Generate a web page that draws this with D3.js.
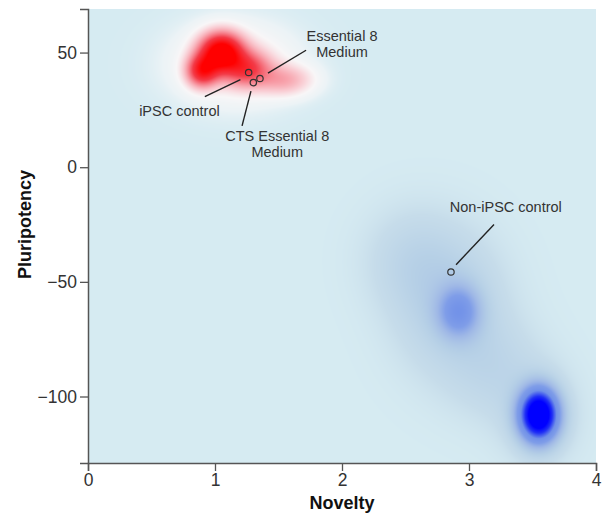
<!DOCTYPE html>
<html><head><meta charset="utf-8">
<script src="https://cdn.jsdelivr.net/npm/d3@7"></script>
<style>body{margin:0;background:#fff;} svg{display:block;font-family:"Liberation Sans",Arial,sans-serif;}</style>
</head><body>
<svg id="chart" width="605" height="514"></svg>
<script>
// ---- data ----
const xTicks = [0, 1, 2, 3, 4];
const yTicks = [50, 0, -50, -100];
const xDomain = [0, 4];
const yDomain = [-129, 69];
// density components: [x, y, sx, sy, weight]
const redComponents = [
  [1.05, 50, 0.11, 5.5, 1.0],
  [0.90, 42, 0.08, 4.5, 0.65],
  [1.25, 43, 0.12, 5.0, 0.45],
  [1.55, 38, 0.15, 4.5, 0.22],
  [1.15, 45, 0.30, 11, 0.14]
];
const blueComponents = [
  [2.92, -63, 0.11, 7.5, 0.45],
  [2.85, -60, 0.28, 20, 0.15],
  [2.55, -40, 0.25, 15, 0.08],
  [3.20, -88, 0.25, 15, 0.08],
  [3.55, -108, 0.10, 7.5, 1.5],
  [3.55, -108, 0.20, 14, 0.10]
];
const pointNames = ["iPSC control", "Essential 8 Medium", "CTS Essential 8 Medium", "Non-iPSC control"];
const pointX = [1.265, 1.354, 1.302, 2.858];
const pointY = [41.3, 38.7, 36.9, -45.7];

// ---- layout ----
const svg = d3.select("#chart");
const m = {left: 88, top: 9, right: 9, bottom: 51};
const W = 605 - m.left - m.right, H = 514 - m.top - m.bottom;
const x = d3.scaleLinear().domain(xDomain).range([0, W]);
const y = d3.scaleLinear().domain(yDomain).range([H, 0]);
const g = svg.append("g").attr("transform", `translate(${m.left},${m.top})`);

const bg = "#d6ebf2";
const redColor = d3.scaleLinear().domain([0, 0.025, 0.07, 0.15, 0.32, 0.55, 0.9])
  .range([bg, "#ecf3f6", "#f8f6f7", "#f9d2d8", "#f7909b", "#f33b48", "#ff0000"]).clamp(true);
const blueColor = d3.scaleLinear().domain([0, 0.05, 0.15, 0.3, 0.45, 0.65, 0.95, 1.2])
  .range([bg, "#c6dcea", "#b5cfe6", "#9fb8e6", "#7f9de8", "#7090e8", "#2030f5", "#0000ff"]).clamp(true);

function field(comps, dx, dy) {
  let s = 0;
  for (const c of comps) {
    const u = (dx - c[0]) / c[2], v = (dy - c[1]) / c[3];
    s += c[4] * Math.exp(-0.5 * (u * u + v * v));
  }
  return s;
}

const canvas = document.createElement("canvas");
canvas.width = Math.round(W); canvas.height = Math.round(H);
const ctx = canvas.getContext("2d");
const img = ctx.createImageData(canvas.width, canvas.height);
for (let py = 0; py < canvas.height; py++) {
  const dy = y.invert(py + 0.5);
  for (let px = 0; px < canvas.width; px++) {
    const dx = x.invert(px + 0.5);
    const r = field(redComponents, dx, dy);
    const b = field(blueComponents, dx, dy);
    const col = d3.rgb(r >= b ? redColor(r) : blueColor(b));
    const i = (py * canvas.width + px) * 4;
    img.data[i] = col.r; img.data[i + 1] = col.g; img.data[i + 2] = col.b; img.data[i + 3] = 255;
  }
}
ctx.putImageData(img, 0, 0);
g.append("image").attr("x", 0).attr("y", 0).attr("width", W).attr("height", H)
  .attr("preserveAspectRatio", "none").attr("href", canvas.toDataURL());

// ---- axes ----
const xAxis = g.append("g").attr("transform", `translate(0,${H})`)
  .call(d3.axisBottom(x).tickValues(xTicks).tickSize(8).tickPadding(3).tickFormat(d3.format("d")));
const yAxis = g.append("g")
  .call(d3.axisLeft(y).tickValues(yTicks).tickSize(8).tickPadding(3).tickFormat(d3.format("d")));
[xAxis, yAxis].forEach(a => {
  a.select(".domain").attr("stroke", "#555").attr("stroke-width", 1.5);
  a.selectAll(".tick line").attr("stroke", "#555").attr("stroke-width", 1.3);
  a.selectAll(".tick text").attr("fill", "#333").style("font-size", "17.5px")
    .style("font-family", "'Liberation Sans',Arial,sans-serif");
});

svg.append("text").attr("x", m.left + x(2)).attr("y", 509).attr("text-anchor", "middle")
  .style("font-size", "18px").style("font-weight", "bold").attr("fill", "#111").text("Novelty");
svg.append("text").attr("transform", `translate(31,${m.top + y(-25)}) rotate(-90)`)
  .attr("text-anchor", "middle").style("font-size", "18px").style("font-weight", "bold")
  .attr("fill", "#111").text("Pluripotency");

// ---- annotations ----
const ann = g.append("g");
ann.selectAll("circle").data(pointX).join("circle")
  .attr("cx", (d) => x(d)).attr("cy", (d, i) => y(pointY[i])).attr("r", 3.2)
  .attr("fill", "none").attr("stroke", "#333").attr("stroke-width", 1.2);

// leader lines in data coords: [x1,y1,x2,y2]
const leaderLines = [
  [0.92, 30.8, 1.20, 38.2],
  [1.417, 41.0, 1.717, 51.0],
  [1.283, 33.2, 1.213, 18.0],
  [2.898, -42.5, 3.197, -25.0]
];
ann.selectAll("line").data(leaderLines).join("line")
  .attr("x1", d => x(d[0])).attr("y1", d => y(d[1]))
  .attr("x2", d => x(d[2])).attr("y2", d => y(d[3]))
  .attr("stroke", "#222").attr("stroke-width", 1.4);

const labels = [
  {lines: ["iPSC control"], x: 0.72, y: 22.5},
  {lines: ["Essential 8", "Medium"], x: 2.0, y: 55.0},
  {lines: ["CTS Essential 8", "Medium"], x: 1.49, y: 11.5},
  {lines: ["Non-iPSC control"], x: 3.29, y: -19.5}
];
labels.forEach(l => {
  const t = ann.append("text").attr("text-anchor", "middle").attr("fill", "#333")
    .style("font-size", "14.5px");
  l.lines.forEach((s, i) => t.append("tspan").attr("x", x(l.x)).attr("y", y(l.y) + i * 16).text(s));
});
</script>
</body></html>
